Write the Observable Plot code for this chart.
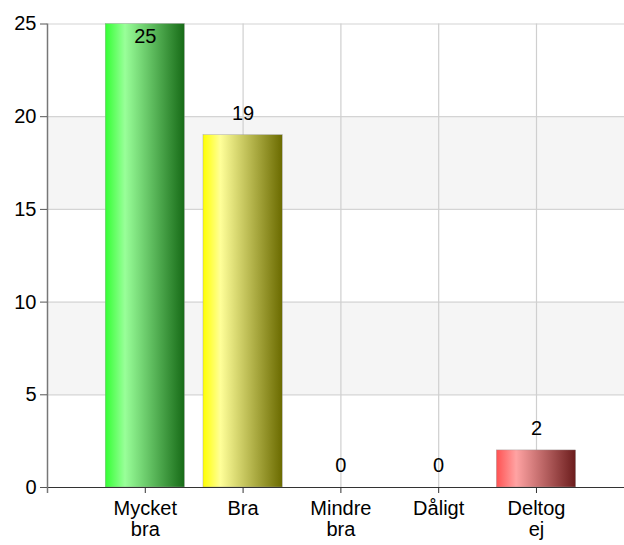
<!DOCTYPE html>
<html>
<head>
<meta charset="utf-8">
<script src="https://cdn.jsdelivr.net/npm/d3@7"></script>
<script src="https://cdn.jsdelivr.net/npm/@observablehq/plot@0.6"></script>
<style>
  html, body { margin: 0; padding: 0; background: #fff; }
  #chart svg { display: block; }
</style>
</head>
<body>
<div id="chart"></div>
<script>
// ---- data ----
const categories = ["Mycket\nbra", "Bra", "Mindre\nbra", "Dåligt", "Deltog\nej"];
const values = [25, 19, 0, 0, 2];
const gradientIds = ["gGreen", "gYellow", "gGray", "gGray", "gRed"];
const yTicks = [0, 5, 10, 15, 20, 25];
const shadedBands = [[5, 10], [15, 20]];

const gradients = {
  gGreen: [["0%", "#33ff33"], ["25%", "#99ff99"], ["100%", "#176b17"]],
  gYellow: [["0%", "#ffff00"], ["22%", "#ffff99"], ["100%", "#6b6b00"]],
  gRed: [["0%", "#ff5252"], ["25%", "#ffa3a3"], ["100%", "#6b1c1c"]],
  gGray: [["0%", "#cccccc"], ["100%", "#666666"]]
};

const data = categories.map((c, i) => ({i: i + 1, label: c, value: values[i], grad: `url(#${gradientIds[i]})`}));
const bands = shadedBands.map(([a, b]) => ({y1: a, y2: b}));
const yMax = 25;
const halfBar = 0.405;
const font = "Arial, 'Liberation Sans', sans-serif";
const fs = 20;

const chart = Plot.plot({
  width: 624,
  height: 545,
  marginLeft: 47,
  marginRight: 0,
  marginTop: 23.5,
  marginBottom: 58,
  style: {fontFamily: font, fontSize: fs + "px", color: "#000", background: "#fff"},
  x: {domain: [0, 5.9], axis: null, label: null},
  y: {domain: [0, yMax], axis: null, label: null},
  color: {type: "identity"},
  marks: [
    Plot.rect(bands, {x1: 0, x2: 5.9, y1: "y1", y2: "y2", fill: "#f5f5f5"}),
    Plot.gridY(yTicks, {stroke: "#d4d4d4", strokeOpacity: 1, strokeWidth: 1.2}),
    Plot.ruleX(data, {x: "i", stroke: "#cfcfcf", strokeWidth: 1.2}),
    Plot.rectY(data, {
      x1: d => d.i - halfBar, x2: d => d.i + halfBar, y1: 0, y2: "value",
      fill: "grad", stroke: "#9a9a9a", strokeWidth: 0.4
    }),
    Plot.text(data.filter(d => d.value < yMax - 1), {x: "i", y: "value", text: d => String(d.value), dy: -22, fontSize: fs, fill: "#000"}),
    Plot.text(data.filter(d => d.value >= yMax - 1), {x: "i", y: "value", text: d => String(d.value), dy: 12.5, fontSize: fs, fill: "#000"}),
    Plot.ruleY([0], {stroke: "#333", strokeWidth: 1.2}),
    Plot.ruleX([0], {stroke: "#777", strokeWidth: 1.5, insetBottom: -6}),
    Plot.axisY({ticks: yTicks, tickSize: 7, tickPadding: 4, stroke: "#555", fontSize: fs, tickFormat: d => String(d), label: null}),
    Plot.axisX({ticks: data.map(d => d.i), tickFormat: i => categories[i - 1], tickSize: 6, tickPadding: 7, stroke: "#333", fontSize: fs, lineHeight: 1.05, label: null})
  ]
});

// gradient definitions
const svgNS = "http://www.w3.org/2000/svg";
const defs = document.createElementNS(svgNS, "defs");
for (const [id, stops] of Object.entries(gradients)) {
  const g = document.createElementNS(svgNS, "linearGradient");
  g.setAttribute("id", id);
  g.setAttribute("x1", "0"); g.setAttribute("x2", "1");
  g.setAttribute("y1", "0"); g.setAttribute("y2", "0");
  for (const [off, col] of stops) {
    const s = document.createElementNS(svgNS, "stop");
    s.setAttribute("offset", off);
    s.setAttribute("stop-color", col);
    g.appendChild(s);
  }
  defs.appendChild(g);
}
chart.insertBefore(defs, chart.firstChild);
document.getElementById("chart").appendChild(chart);
</script>
</body>
</html>
